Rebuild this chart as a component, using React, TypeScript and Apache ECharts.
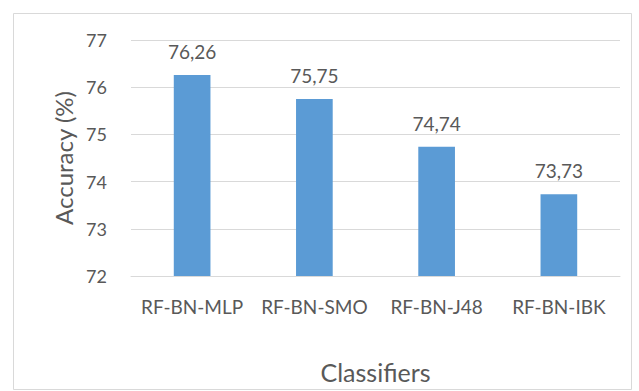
import React, { useEffect, useRef } from "react";
import * as echarts from "echarts";

const categories = ["RF-BN-MLP", "RF-BN-SMO", "RF-BN-J48", "RF-BN-IBK"];
const accuracy = [76.26, 75.75, 74.74, 73.73];
const yTicks = { min: 72, max: 77, interval: 1 };

const FONT = "Lato, 'Open Sans', sans-serif";
const TEXT = "#595959";

export default function App() {
  const ref = useRef<HTMLDivElement>(null);
  useEffect(() => {
    if (!ref.current) return;
    const chart = echarts.init(ref.current, null, { renderer: "svg" });
    chart.setOption({
      animation: false,
      backgroundColor: "#ffffff",
      graphic: [
        {
          type: "rect",
          shape: { x: 13.5, y: 13.5, width: 618, height: 376 },
          style: { fill: "none", stroke: "#d9d9d9", lineWidth: 1 },
          silent: true,
        },
      ],
      grid: { left: 131, right: 19, top: 40, bottom: 115 },
      xAxis: {
        type: "category",
        data: categories,
        name: "Classifiers",
        nameLocation: "middle",
        nameGap: 83,
        nameTextStyle: { fontFamily: FONT, fontSize: 25, color: TEXT },
        axisLine: { show: true, lineStyle: { color: "#d9d9d9" } },
        axisTick: { show: false },
        axisLabel: {
          fontFamily: FONT,
          fontSize: 19,
          color: TEXT,
          margin: 21,
          interval: 0,
        },
      },
      yAxis: {
        type: "value",
        min: yTicks.min,
        max: yTicks.max,
        interval: yTicks.interval,
        name: "Accuracy (%)",
        nameLocation: "middle",
        nameRotate: 90,
        nameGap: 51,
        nameTextStyle: { fontFamily: FONT, fontSize: 24, color: TEXT },
        axisLine: { show: false },
        axisTick: { show: false },
        axisLabel: { fontFamily: FONT, fontSize: 18, color: TEXT, margin: 24 },
        splitLine: { lineStyle: { color: "#d9d9d9" } },
      },
      series: [
        {
          type: "bar",
          data: accuracy,
          barWidth: "30%",
          itemStyle: { color: "#5B9BD5" },
          label: {
            show: true,
            position: "top",
            distance: 14,
            fontFamily: FONT,
            fontSize: 19,
            color: TEXT,
            formatter: (p: any) => String(p.value).replace(".", ","),
          },
        },
      ],
    });
    return () => chart.dispose();
  }, []);
  return (
    <div
      ref={ref}
      style={{ position: "fixed", left: 0, top: 0, width: 639, height: 391 }}
    />
  );
}
